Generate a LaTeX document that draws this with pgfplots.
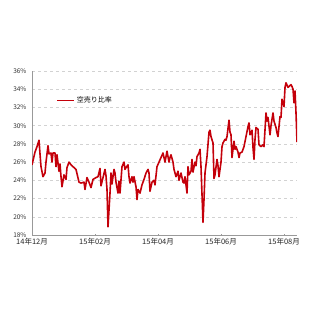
\documentclass[border=0pt]{standalone}
\usepackage{fontspec}
\setmainfont{Noto Sans CJK JP}
\usepackage{pgfplots}
\pgfplotsset{compat=1.18}
\definecolor{lred}{RGB}{196,0,10}
\begin{document}
\begin{tikzpicture}[x=1pt,y=1pt]
\useasboundingbox (0,0) rectangle (320,320);
\begin{axis}[
  at={(32pt,85pt)}, anchor=south west,
  scale only axis, width=265pt, height=164pt,
  xmin=32, xmax=297, ymin=18, ymax=36,
  axis x line=bottom, axis y line=left,
  axis line style={-, gray!80, line width=0.7pt},
  xtick={32,95,158,221,284},
  xticklabels={14年12月,15年02月,15年04月,15年06月,15年08月},
  ytick={18,20,...,36},
  yticklabels={18\%,20\%,22\%,24\%,26\%,28\%,30\%,32\%,34\%,36\%},
  x tick label style={font=\fontsize{7.5}{8}\selectfont, yshift=1pt, text=black!85},
  y tick label style={font=\fontsize{6.5}{7}\selectfont, text=black!80, xshift=-1pt},
  ytick style={draw=none},
  xtick style={gray!80, line width=0.5pt},
  major tick length=2pt,
  ymajorgrids, grid style={dashed, gray!35, line width=0.5pt},
  legend style={at={(axis cs:56,32.75)}, anchor=west, draw=none, fill=none,
    font=\fontsize{7}{8}\selectfont, inner xsep=0pt, inner ysep=0pt},
  legend cell align=left,
]
\addplot[lred, line width=1.6pt, line join=round] coordinates {
(32,25.7) (35,27.1) (37,27.7) (39,28.4) (40,26.9) (41,25.5) (43,24.4) (45,24.8)
(46,26.0) (48,27.8) (49,26.9) (51,27.0) (52,26.0) (53,27.0) (55,27.0) (56,25.5)
(57,26.8) (59,25.0) (60,25.8) (61,24.4) (62,23.3) (64,24.6) (66,24.1) (67,25.4)
(69,26.0) (71,25.7) (74,25.4) (76,25.2) (79,23.8) (81,23.7) (84,23.8) (85,23.0)
(87,24.3) (89,23.8) (91,23.2) (93,24.1) (96,24.3) (98,24.4) (100,25.3) (101,23.4)
(103,24.3) (105,25.2) (106,24.5) (107,23.0) (108,18.9) (110,22.6) (111,24.8) (112,23.6)
(114,25.2) (115,24.8) (116,23.8) (118,22.6) (119,23.9) (120,22.6) (122,25.5) (124,26.0)
(125,25.2) (126,25.4) (128,25.7) (129,24.4) (130,23.7) (132,24.4) (133,23.8) (134,24.4)
(136,23.3) (137,21.9) (138,23.0) (140,22.6) (142,23.5) (144,24.1) (146,24.8) (148,25.2)
(149,24.8) (150,22.8) (152,23.8) (154,24.0) (155,23.5) (157,25.5) (159,26.0) (161,26.5)
(163,27.0) (165,26.0) (167,27.2) (169,26.0) (170,26.5) (171,26.8) (173,26.0) (174,25.2)
(176,24.4) (178,25.0) (179,24.0) (181,24.8) (183,23.8) (184,23.7) (185,24.4) (187,22.6)
(188,25.5) (189,24.6) (191,25.0) (192,26.3) (193,24.9) (195,26.0) (196,25.6) (197,26.6)
(199,27.0) (200,27.4) (201,25.5) (203,19.4) (204,21.9) (205,24.8) (207,26.6) (209,29.3)
(210,29.5) (211,28.8) (213,28.1) (214,24.2) (215,24.6) (217,26.3) (218,25.6) (219,24.4)
(221,26.0) (222,27.7) (223,28.1) (225,28.5) (226,28.4) (227,28.8) (229,30.6) (230,29.3)
(231,29.0) (232,26.5) (234,28.3) (235,27.4) (236,27.7) (238,27.1) (239,26.5) (240,27.0)
(242,27.1) (244,27.7) (246,28.8) (248,29.9) (249,30.3) (250,29.0) (252,29.5) (253,27.6)
(254,26.3) (255,28.5) (256,29.8) (258,29.6) (259,27.9) (261,27.7) (263,27.9) (264,27.7)
(266,31.4) (267,30.5) (268,30.9) (270,29.0) (271,30.0) (273,31.4) (274,30.5) (276,29.8)
(277,29.2) (278,28.8) (280,31.0) (281,30.9) (282,32.9) (284,32.1) (285,34.2) (286,34.7)
(288,34.2) (289,34.3) (291,34.5) (292,34.3) (293,34.0) (294,32.5) (295,33.8) (296,31.4)
(297,28.2)
};
\addlegendentry{空売り比率}
\end{axis}
\end{tikzpicture}
\end{document}
